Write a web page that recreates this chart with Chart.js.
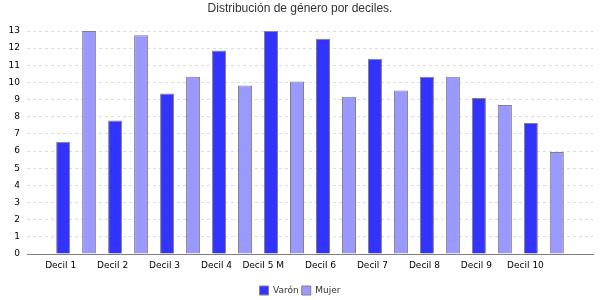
<!DOCTYPE html>
<html>
<head>
<meta charset="utf-8">
<script src="https://cdn.jsdelivr.net/npm/chart.js@4"></script>
<style>
  html, body { margin: 0; padding: 0; background: #fff; }
  #wrap { width: 600px; height: 300px; }
</style>
</head>
<body>
<div id="wrap"><canvas id="grafico"></canvas></div>
<script>
// datos
const deciles = ['Decil 1', 'Decil 2', 'Decil 3', 'Decil 4', 'Decil 5 M', 'Decil 6', 'Decil 7', 'Decil 8', 'Decil 9', 'Decil 10']
const varon = [6.55, 7.78, 9.36, 11.87, 13.02, 12.55, 11.38, 10.33, 9.1, 7.64]
const mujer = [13.0, 12.75, 10.33, 9.82, 10.06, 9.16, 9.53, 10.33, 8.69, 5.94]
const yTicks = [0, 13]

const font = 'DejaVu Sans'

new Chart(document.getElementById('grafico'), {
  type: 'bar',
  data: {
    datasets: [{
      label: 'Varón',
      data: varon.map((v, i) => ({ x: i, y: v })),
      backgroundColor: '#3333ff',
      borderColor: '#808080',
      borderWidth: 1,
      categoryPercentage: 1,
      barPercentage: 0.54
    }, {
      label: 'Mujer',
      data: mujer.map((v, i) => ({ x: i, y: v })),
      backgroundColor: '#9999ff',
      borderColor: '#808080',
      borderWidth: 1,
      categoryPercentage: 1,
      barPercentage: 0.54
    }]
  },
  options: {
    responsive: true,
    maintainAspectRatio: false,
    animation: false,
    layout: { padding: { left: 7, right: 7, top: 0, bottom: -5 } },
    plugins: {
      title: {
        display: true,
        text: 'Distribución de género por deciles.',
        color: '#333',
        font: { family: 'Liberation Sans', size: 12, weight: 'normal' },
        padding: { top: 1, bottom: 15.6 }
      },
      legend: {
        position: 'bottom',
        labels: {
          boxWidth: 9,
          boxHeight: 9,
          color: '#333',
          font: { family: font, size: 9 },
          padding: 3
        }
      },
      tooltip: { enabled: false }
    },
    scales: {
      x: {
        type: 'linear',
        offset: false,
        min: -0.946,
        max: 9.946,
        afterBuildTicks: (scale) => {
          scale.ticks = deciles.map((d, i) => ({ value: i }))
        },
        afterFit: (scale) => { scale.height = 29 },
        ticks: {
          align: 'end',
          autoSkip: false,
          maxRotation: 0,
          color: '#000',
          font: { family: font, size: 9 },
          padding: 6,
          callback: (v) => deciles[v]
        },
        grid: { display: false, offset: false, drawTicks: false },
        border: { display: true, color: '#808080', width: 1 }
      },
      y: {
        min: yTicks[0],
        max: yTicks[1],
        afterFit: (scale) => { scale.width = 20 },
        ticks: {
          stepSize: 1,
          color: '#000',
          font: { family: font, size: 9 },
          padding: 7
        },
        grid: {
          color: '#dddddd',
          drawTicks: false
        },
        border: { display: false, dash: [3, 3] }
      }
    }
  }
})
</script>
</body>
</html>
